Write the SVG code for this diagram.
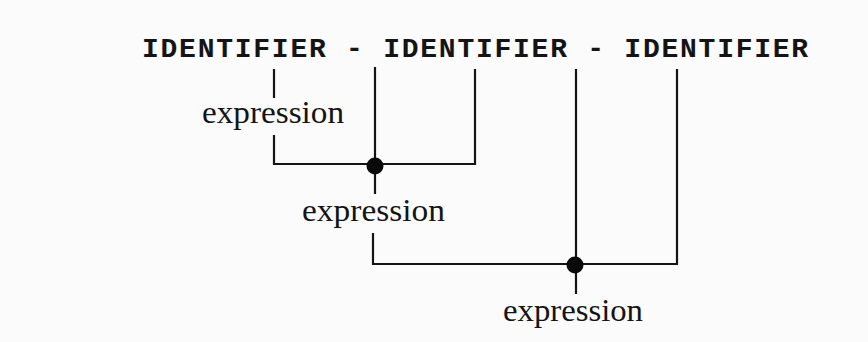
<svg xmlns="http://www.w3.org/2000/svg" width="868" height="342" viewBox="0 0 868 342">
  <style>
    .ident { font-family: "Liberation Mono", "DejaVu Sans Mono", monospace; font-weight: bold; font-size: 28px; letter-spacing: 1.75px; fill: #141414; }
    .expr { font-family: "Liberation Serif", "DejaVu Serif", serif; font-size: 31px; fill: #141414; }
    .wire { stroke: #141414; stroke-width: 2.2; fill: none; stroke-linecap: square; }
    .join { fill: #0a0a0a; }
  </style>
  <rect width="868" height="342" fill="#fbfbfb"/>

  <g id="header">
    <text class="ident" x="142" y="57">IDENTIFIER - IDENTIFIER - IDENTIFIER</text>
  </g>

  <g id="expr1">
    <text class="expr" x="202" y="123" textLength="142" lengthAdjust="spacingAndGlyphs">expression</text>
  </g>
  <g id="expr2">
    <text class="expr" x="302" y="221" textLength="143" lengthAdjust="spacingAndGlyphs">expression</text>
  </g>
  <g id="expr3">
    <text class="expr" x="503" y="321" textLength="140" lengthAdjust="spacingAndGlyphs">expression</text>
  </g>

  <g id="connectors">
    <!-- first sum: IDENTIFIER - IDENTIFIER -->
    <path class="wire" d="M274 70 V97 M274 136 V164 H475 V70 M375 68 V193"/>
    <circle class="join" cx="375" cy="166" r="8.5"/>
    <!-- second sum: expression - IDENTIFIER -->
    <path class="wire" d="M373 234 V264 H677 V70 M576 70 V293"/>
    <circle class="join" cx="575" cy="265" r="8.5"/>
  </g>
</svg>
